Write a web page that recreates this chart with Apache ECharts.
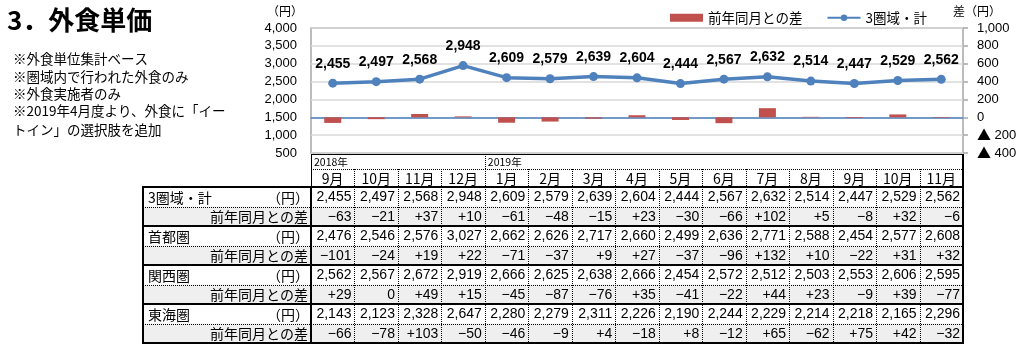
<!DOCTYPE html>
<html>
<head>
<meta charset="utf-8">
<script src="https://cdn.jsdelivr.net/npm/echarts@6/dist/echarts.min.js"></script>
<style>
  html, body { margin: 0; padding: 0; background: #fff; }
  #main { width: 1024px; height: 350px; }
</style>
</head>
<body>
<div id="main"></div>
<script>
// ---- data ----
const months = ['9月','10月','11月','12月','1月','2月','3月','4月','5月','6月','7月','8月','9月','10月','11月'];
const years  = ['2018年','2018年','2018年','2018年','2019年','2019年','2019年','2019年','2019年','2019年','2019年','2019年','2019年','2019年','2019年'];

const totalVals  = [2455,2497,2568,2948,2609,2579,2639,2604,2444,2567,2632,2514,2447,2529,2562];
const totalDiff  = [-63,-21,37,10,-61,-48,-15,23,-30,-66,102,5,-8,32,-6];
const shutoVals  = [2476,2546,2576,3027,2662,2626,2717,2660,2499,2636,2771,2588,2454,2577,2608];
const shutoDiff  = [-101,-24,19,22,-71,-37,9,27,-37,-96,132,10,-22,31,32];
const kansaiVals = [2562,2567,2672,2919,2666,2625,2638,2666,2454,2572,2512,2503,2553,2606,2595];
const kansaiDiff = [29,0,49,15,-45,-87,-76,35,-41,-22,44,23,-9,39,-77];
const tokaiVals  = [2143,2123,2328,2647,2280,2279,2311,2226,2190,2244,2229,2214,2218,2165,2296];
const tokaiDiff  = [-66,-78,103,-50,-46,-9,4,-18,8,-12,65,-62,75,42,-32];

const regionNames = ['3圏域・計','首都圏','関西圏','東海圏'];
const diffLabel = '前年同月との差';
const unitLabel = '（円）';

const priceAxis = { min: 500, max: 4000, interval: 500 };
const diffAxis  = { min: -400, max: 1000, interval: 200 };

const titleText = '3．外食単価';
const notes = [
  '※外食単位集計ベース',
  '※圏域内で行われた外食のみ',
  '※外食実施者のみ',
  '※2019年4月度より、外食に「イー',
  'トイン」の選択肢を追加'
];

// ---- helpers ----
const fmt = v => v.toLocaleString('en-US');
const fmtDiff = v => v > 0 ? '+' + v : (v < 0 ? '−' + (-v) : '0');
const JP = '"Noto Sans CJK JP", "Noto Sans", sans-serif';
const NUM = '"Liberation Sans", Arial, sans-serif';

const chart = echarts.init(document.getElementById('main'), null, { renderer: 'canvas' });

chart.setOption({
  animation: false,
  backgroundColor: '#fff',
  grid: {
    left: 311, right: 61, top: 28, height: 125,
    show: true, borderColor: '#a6a6a6', borderWidth: 1.5
  },
  legend: {
    left: 665, top: 6,
    itemWidth: 33, itemHeight: 8, itemGap: 24,
    textStyle: { fontFamily: JP, fontSize: 13.5, color: '#000', padding: [0, 0, 0, 0] },
    data: [
      { name: '前年同月との差', icon: 'rect' },
      { name: '3圏域・計' }
    ]
  },
  xAxis: {
    type: 'category',
    data: months,
    axisLabel: { show: false },
    axisTick: { show: false },
    axisLine: { show: true, onZero: true, onZeroAxisIndex: 1, lineStyle: { color: '#4f81bd', width: 1.5 } },
    splitLine: { show: false }
  },
  yAxis: [
    {
      type: 'value',
      min: priceAxis.min, max: priceAxis.max, interval: priceAxis.interval,
      axisLine: { show: false }, axisTick: { show: false },
      axisLabel: { margin: 14, color: '#000', fontFamily: NUM, fontSize: 13, formatter: v => fmt(v) },
      splitLine: { lineStyle: { color: '#d9d9d9', width: 1.5 } }
    },
    {
      type: 'value',
      min: diffAxis.min, max: diffAxis.max, interval: diffAxis.interval,
      position: 'right',
      axisLine: { show: false },
      axisTick: { show: true, length: 5, lineStyle: { color: '#a6a6a6', width: 1.5 } },
      axisLabel: {
        margin: 14, color: '#000', fontFamily: NUM, fontSize: 13,
        formatter: v => v < 0 ? '{tri|▲} ' + fmt(-v) : fmt(v),
        rich: { tri: { fontFamily: JP, fontSize: 14, color: '#000' } }
      },
      splitLine: { show: false }
    }
  ],
  series: [
    {
      name: '前年同月との差',
      type: 'bar',
      yAxisIndex: 1,
      data: totalDiff,
      barWidth: 17,
      itemStyle: { color: '#c0504d' },
      z: 2
    },
    {
      name: '3圏域・計',
      type: 'line',
      yAxisIndex: 0,
      data: totalVals,
      symbol: 'circle',
      symbolSize: 9,
      lineStyle: { color: '#4f81bd', width: 3.5 },
      itemStyle: { color: '#4f81bd' },
      label: {
        show: true, position: 'top', distance: 8,
        color: '#000', fontFamily: NUM, fontWeight: 'bold', fontSize: 14,
        formatter: p => fmt(p.value)
      },
      z: 3
    }
  ]
});

// ---- title, notes, axis names and the data table (columns follow the category axis) ----
const g = [];

g.push({ type: 'text', x: 7, y: 20, style: { text: titleText, font: 'bold 26px ' + JP, fill: '#000', textVerticalAlign: 'middle' } });
const noteY = [59, 77, 94, 111, 130];
notes.forEach((t, i) => {
  g.push({ type: 'text', x: 13, y: noteY[i], style: { text: t, font: '13.5px ' + JP, fill: '#000', textVerticalAlign: 'middle' } });
});
g.push({ type: 'text', x: 303, y: 11, style: { text: unitLabel, font: '12px ' + JP, fill: '#000', textAlign: 'right', textVerticalAlign: 'middle' } });
g.push({ type: 'text', x: 953, y: 11, style: { text: '差' + unitLabel, font: '12px ' + JP, fill: '#000', textVerticalAlign: 'middle' } });

const xs = months.map((m, i) => chart.convertToPixel({ xAxisIndex: 0 }, i));
const step = xs[1] - xs[0];
const colLeft = Math.round(xs[0] - step / 2);
const colRight = Math.round(xs[xs.length - 1] + step / 2);
const tableLeft = 143;
const headTop = 154, yearBottom = 169, bodyTop = 187, rowH = 19.5;

const rows = [];
[[totalVals, totalDiff], [shutoVals, shutoDiff], [kansaiVals, kansaiDiff], [tokaiVals, tokaiDiff]].forEach((pair, k) => {
  rows.push({ label: regionNames[k], unit: true, cells: pair[0].map(fmt) });
  rows.push({ label: diffLabel, unit: false, cells: pair[1].map(fmtDiff) });
});
const bodyBottom = bodyTop + rows.length * rowH;

function hline(x1, x2, y, w, dash) {
  g.push({ type: 'line', shape: { x1: x1, y1: y, x2: x2, y2: y }, style: { stroke: '#000', lineWidth: w, lineDash: dash || null }, z: 20 });
}
function vline(x, y1, y2, w, dash) {
  g.push({ type: 'line', shape: { x1: x, y1: y1, x2: x, y2: y2 }, style: { stroke: '#000', lineWidth: w, lineDash: dash || null }, z: 20 });
}

// shaded difference rows
rows.forEach((r, i) => {
  if (!r.unit) {
    g.push({ type: 'rect', shape: { x: tableLeft, y: bodyTop + i * rowH, width: colRight - tableLeft, height: rowH }, style: { fill: '#efefef' }, z: 10 });
  }
});

// header (year + month)
hline(colLeft, colRight, headTop + 0.5, 1);
hline(colLeft, colRight, yearBottom + 0.5, 1, [1, 1]);
vline(colLeft + 0.5, headTop, bodyTop, 1);
years.forEach((y, i) => {
  if (i === 0 || years[i - 1] !== y) {
    const x0 = xs[i] - step / 2;
    g.push({ type: 'text', x: x0 + 3, y: (headTop + yearBottom) / 2 + 1, style: { text: y, font: '10.5px ' + JP, fill: '#000', textVerticalAlign: 'middle' }, z: 21 });
    if (i > 0) vline(Math.round(x0) + 0.5, headTop, yearBottom, 1, [1, 1]);
  }
});
months.forEach((m, i) => {
  g.push({ type: 'text', x: xs[i], y: (yearBottom + bodyTop) / 2 + 0.5, style: { text: m, font: '14px ' + JP, fill: '#000', textAlign: 'center', textVerticalAlign: 'middle' }, z: 21 });
  if (i > 0) vline(Math.round(xs[i] - step / 2) + 0.5, yearBottom, bodyBottom, 1, [1, 1]);
});

// body rows
rows.forEach((r, i) => {
  const cy = bodyTop + i * rowH + rowH / 2 + 0.5;
  if (r.unit) {
    g.push({ type: 'text', x: tableLeft + 5, y: cy, style: { text: r.label, font: '14px ' + JP, fill: '#000', textVerticalAlign: 'middle' }, z: 21 });
    g.push({ type: 'text', x: colLeft - 2, y: cy, style: { text: unitLabel, font: '14px ' + JP, fill: '#000', textAlign: 'right', textVerticalAlign: 'middle' }, z: 21 });
  } else {
    g.push({ type: 'text', x: colLeft - 3, y: cy, style: { text: r.label, font: '14px ' + JP, fill: '#000', textAlign: 'right', textVerticalAlign: 'middle' }, z: 21 });
  }
  r.cells.forEach((c, j) => {
    g.push({ type: 'text', x: xs[j] + step / 2 - 3, y: cy, style: { text: c, font: '14px ' + NUM, fill: '#000', textAlign: 'right', textVerticalAlign: 'middle' }, z: 21 });
  });
  const yb = bodyTop + (i + 1) * rowH;
  if (i < rows.length - 1) {
    if (r.unit) hline(tableLeft, colRight, Math.round(yb) + 0.5, 1, [1, 1]);
    else hline(tableLeft, colRight, Math.round(yb), 2);
  }
});

// outer frame of the table
hline(tableLeft - 1, colRight + 1, bodyTop, 2);
hline(tableLeft - 1, colRight + 1, Math.round(bodyBottom), 2);
vline(tableLeft, bodyTop, bodyBottom, 2);
vline(colLeft, bodyTop, bodyBottom, 2);
vline(colRight, headTop, bodyBottom, 2);

chart.setOption({ graphic: g });
</script>
</body>
</html>
